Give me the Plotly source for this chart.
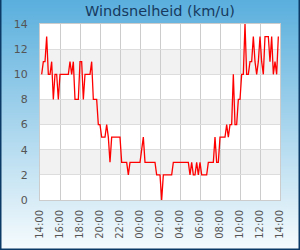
import base64, struct, zlib
import datetime as dt
import plotly.graph_objects as go

# ---- data ----
start_time = "2024-01-01 14:10"
step_minutes = 10
wind_kmh = [
    10, 11, 11, 13, 10, 10, 11, 8, 10, 10,
    8, 10, 10, 10, 10, 10, 10, 11, 10, 11,
    8, 8, 8, 11, 11, 8, 10, 10, 10, 10,
    11, 8, 8, 8, 6, 6, 5, 5, 5, 6,
    5, 3, 5, 5, 5, 5, 5, 5, 3, 3,
    3, 3, 2, 3, 3, 3, 3, 3, 3, 3,
    4, 5, 3, 3, 3, 3, 3, 3, 3, 2,
    2, 2, 0, 2, 2, 2, 2, 2, 2, 3,
    3, 3, 3, 3, 3, 3, 3, 3, 3, 2,
    3, 2, 2, 3, 2, 3, 2, 2, 2, 2,
    3, 3, 3, 3, 5, 3, 3, 5, 5, 5,
    5, 6, 5, 6, 6, 10, 6, 6, 8, 8,
    10, 10, 14, 10, 10, 11, 11, 13, 11, 10,
    11, 13, 11, 10, 13, 13, 13, 11, 13, 10,
    11, 10, 13,
]
x_range = ["2024-01-01 14:00", "2024-01-02 14:00"]
y_range = [0, 14]
title_text = "Windsnelheid (km/u)"

t0 = dt.datetime.strptime(start_time, "%Y-%m-%d %H:%M")
times = [t0 + dt.timedelta(minutes=step_minutes * i) for i in range(len(wind_kmh))]

# ---- gradient background image ----
W, H = 4, 250
top = (90, 175, 221)
bot = (246, 251, 253)
raw = b""
for r in range(H):
    f = r / (H - 1)
    c = bytes(int(round(top[k] + (bot[k] - top[k]) * f)) for k in range(3))
    raw += b"\x00" + c * W
def chunk(tag, data):
    return struct.pack(">I", len(data)) + tag + data + struct.pack(">I", zlib.crc32(tag + data) & 0xffffffff)
png = b"\x89PNG\r\n\x1a\n" + chunk(b"IHDR", struct.pack(">IIBBBBB", W, H, 8, 2, 0, 0, 0)) \
      + chunk(b"IDAT", zlib.compress(raw)) + chunk(b"IEND", b"")
uri = "data:image/png;base64," + base64.b64encode(png).decode()

FW, FH = 300, 250
ML, MR, MT, MB = 40, 20, 24, 50
PW, PH = FW - ML - MR, FH - MT - MB

fig = go.Figure()
fig.add_trace(go.Scatter(x=times, y=wind_kmh, mode="lines",
                         line=dict(color="#ff0000", width=1.3), hoverinfo="skip"))

shapes = []
# white plot area
shapes.append(dict(type="rect", xref="x", yref="y", x0=x_range[0], x1=x_range[1],
                   y0=y_range[0], y1=y_range[1], fillcolor="white", line_width=0, layer="below"))
# alternating bands
for b in range(2, 14, 4):
    shapes.append(dict(type="rect", xref="x", yref="y", x0=x_range[0], x1=x_range[1],
                       y0=b, y1=b + 2, fillcolor="#f2f2f2", line_width=0, layer="below"))
# outer dark border (left, bottom, right)
x0p, x1p = -ML / PW, (FW - ML) / PW
y0p, y1p = -MB / PH, (FH - MB) / PH
shapes.append(dict(type="path", xref="paper", yref="paper",
                   path=f"M {x0p} {y1p} L {x0p} {y0p} L {x1p} {y0p} L {x1p} {y1p}",
                   line=dict(color="#0c3a66", width=3), layer="above"))

fig.update_layout(
    width=FW, height=FH,
    margin=dict(l=ML, r=MR, t=MT, b=MB, autoexpand=False),
    paper_bgcolor="white",
    plot_bgcolor="rgba(0,0,0,0)",
    showlegend=False,
    font=dict(family="DejaVu Sans", size=11, color="#555555"),
    title=dict(text=title_text, x=0.5, xref="paper", xanchor="center",
               y=1 - 11 / FH, yref="container", yanchor="middle",
               font=dict(family="DejaVu Sans", size=14.5, color="#173a5e")),
    images=[dict(source=uri, xref="paper", yref="paper", x=x0p, y=y1p,
                 sizex=FW / PW, sizey=FH / PH, sizing="stretch",
                 xanchor="left", yanchor="top", layer="below")],
    shapes=shapes,
    xaxis=dict(range=x_range, type="date", tick0=x_range[0], dtick=2 * 3600 * 1000,
               tickformat="%H:%M", tickangle=-90, showgrid=True, gridcolor="#cccccc",
               gridwidth=1, showline=True, mirror=True, linecolor="#cccccc", linewidth=1,
               ticks="", ticklabelstandoff=5, zeroline=False, fixedrange=True,
               automargin=False, tickfont=dict(size=10)),
    yaxis=dict(range=y_range, dtick=2, showgrid=True, gridcolor="#dddddd", gridwidth=1,
               showline=True, mirror=True, linecolor="#cccccc", linewidth=1,
               ticks="", ticklabelstandoff=9, zeroline=False, fixedrange=True,
               automargin=False),
)
fig.write_html("out.html")
